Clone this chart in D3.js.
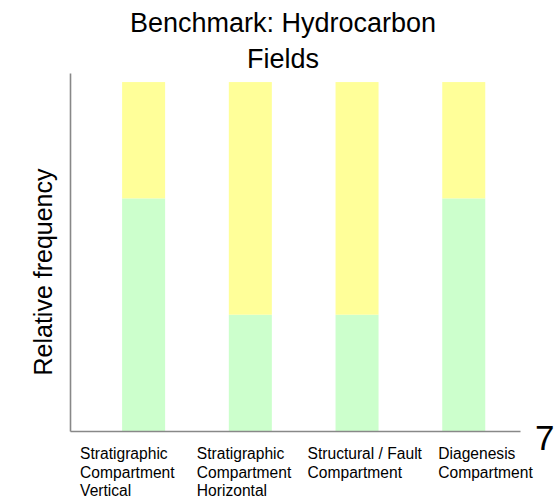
<!DOCTYPE html>
<html>
<head>
<meta charset="utf-8">
<script src="https://cdn.jsdelivr.net/npm/d3@7"></script>
<style>
  body { margin: 0; background: #fff; }
  svg { display: block; font-family: "Liberation Sans", Arial, sans-serif; }
</style>
</head>
<body>
<svg id="chart" width="559" height="498"></svg>
<script>
// data
const categories = ['Stratigraphic Compartment Vertical', 'Stratigraphic Compartment Horizontal',
  'Structural / Fault Compartment', 'Diagenesis Compartment']
const tickLabels = [
  ['Stratigraphic', 'Compartment', 'Vertical'],
  ['Stratigraphic', 'Compartment', 'Horizontal'],
  ['Structural / Fault', 'Compartment'],
  ['Diagenesis', 'Compartment']
]
const greenValues = [2 / 3, 1 / 3, 1 / 3, 2 / 3]
const yellowValues = [1 / 3, 2 / 3, 2 / 3, 1 / 3]

// layout
const plotLeft = 70, plotRight = 520, plotTop = 73, plotBottom = 431
const labelNudge = [-42, -32, -28, -4]  // labels sit left of the bars in the original

const svg = d3.select('#chart')

const x = d3.scaleBand().domain(categories).range([plotLeft, plotRight])
  .paddingInner(0.597).paddingOuter(0.407).align(0.6)
const y = d3.scaleLinear().domain([0, 1.026]).range([plotBottom, plotTop])

const rows = categories.map((c, i) => ({cat: c, green: greenValues[i], yellow: yellowValues[i]}))
const stack = d3.stack().keys(['green', 'yellow'])(rows)
const colors = {green: '#ccffcc', yellow: '#ffff99'}

svg.append('g').selectAll('g').data(stack).enter().append('g')
  .attr('fill', s => colors[s.key])
  .selectAll('rect').data(s => s).enter().append('rect')
  .attr('x', d => x(d.data.cat))
  .attr('width', x.bandwidth())
  .attr('y', d => y(d[1]))
  .attr('height', d => y(d[0]) - y(d[1]))

// axes: plain lines, no ticks
const yAxis = svg.append('g').attr('transform', `translate(${plotLeft},0)`)
  .call(d3.axisLeft(y).ticks(0).tickSizeOuter(0))
const xAxis = svg.append('g').attr('transform', `translate(0,${plotBottom})`)
  .call(d3.axisBottom(x).tickSize(0).tickFormat(''))
svg.selectAll('.domain').attr('stroke', '#888').attr('stroke-width', 1.6)
xAxis.selectAll('.tick').remove()
yAxis.selectAll('.tick').remove()

// category labels, left aligned, three lines max
const lab = svg.append('g').attr('font-size', '15.6px').attr('fill', '#000')
tickLabels.forEach((lines, i) => {
  const t = lab.append('text')
    .attr('x', x(categories[i]) + labelNudge[i])
    .attr('y', 459)
  lines.forEach((ln, j) => {
    t.append('tspan').attr('x', x(categories[i]) + labelNudge[i])
      .attr('dy', j === 0 ? 0 : 18.5).text(ln)
  })
})

// title
const title = svg.append('text').attr('text-anchor', 'middle')
  .attr('font-size', '27px').attr('fill', '#000')
title.append('tspan').attr('x', 283).attr('y', 32).text('Benchmark: Hydrocarbon')
title.append('tspan').attr('x', 283).attr('y', 68).text('Fields')

// y axis title
svg.append('text').attr('text-anchor', 'middle')
  .attr('transform', 'translate(52,272) rotate(-90)')
  .attr('font-size', '25px').attr('fill', '#000')
  .text('Relative frequency')

// stray "7" at the end of the x axis
svg.append('text').attr('x', 535).attr('y', 450)
  .attr('font-size', '35px').attr('fill', '#000').text('7')
</script>
</body>
</html>
